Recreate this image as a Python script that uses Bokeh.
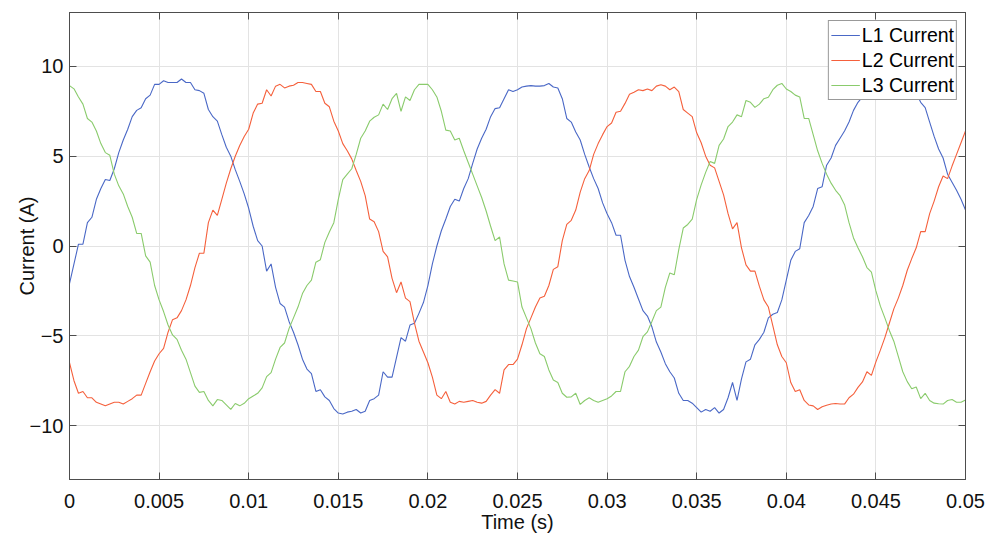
import numpy as np
from bokeh.plotting import figure
from bokeh.models import (Range1d, FixedTicker, LinearAxis, CustomJSTickFormatter)
from bokeh.embed import file_html
from bokeh.resources import INLINE

# ---- data ----
# samples every 0.25 ms: values at whole 0.5 ms steps and at the half steps in between
time_s = np.round(np.arange(201) * 0.00025, 5)

l1_at_steps = [-2.1, 0.1, 1.3, 2.6, 3.7, 4.3, 5.9, 7.2, 7.7, 8.4, 9.0, 9.1, 9.1, 9.1, 8.7, 8.5, 7.2,
               6.2, 5.0, 3.6, 2.1, 0.3, -1.4, -2.3, -3.4, -4.8, -6.3, -7.1, -8.0, -8.6, -9.3, -9.25, -9.1,
               -9.2, -8.5, -7.0, -7.3, -5.1, -4.4, -3.75, -2.2, 0.0, 1.5, 2.6, 3.2, 4.6, 6.0, 7.2, 7.7, 8.7,
               8.7, 8.9, 8.9, 8.93, 8.85, 8.2, 6.9, 5.9, 4.4, 3.2, 1.8, 0.6, -0.8, -2.3, -3.6, -4.5,
               -5.9, -7.0, -8.2, -8.6, -9.0, -9.1, -9.0, -9.1, -7.6, -7.4, -6.3, -5.2, -4.0, -3.7, -1.9, -0.3, 1.3,
               2.2, 3.3, 4.9, 6.0, 6.9, 8.0, 8.6, 8.9, 9.1, 9.1, 9.0, 8.8, 8.0, 6.9, 5.4, 4.0, 3.1, 2.0]
l1_between = [-1.0, 0.1, 1.6, 3.2, 3.65, 5.2, 6.5, 7.55, 8.2, 9.0, 9.2, 9.1, 9.3, 9.1, 8.65, 7.6,
              6.95, 5.5, 4.25, 2.9, 1.1, 0.0, -1.0, -3.2, -4.2, -5.5, -6.85, -8.1, -8.4, -9.05, -9.35, -9.2,
              -9.3, -8.6, -8.3, -7.3, -6.2, -5.3, -4.3, -3.15, -1.0, 0.85, 2.2, 2.5, 3.75, 5.4, 6.5, 7.65, 8.2,
              8.6, 8.85, 8.93, 8.9, 9.05, 8.8, 7.1, 6.35, 5.1, 3.75, 2.4, 1.3, 0.6, -1.7, -2.95, -3.9,
              -5.35, -6.55, -7.35, -8.6, -8.75, -9.25, -9.2, -9.3, -8.45, -8.6, -6.45, -5.5, -4.8, -3.8, -3.0, -0.8, -0.15,
              1.7, 3.2, 4.5, 5.6, 6.4, 7.55, 8.3, 8.8, 9.0, 9.1, 9.05, 8.9, 8.5, 7.7, 6.1, 4.9, 3.55, 2.6]

l2_at_steps = [-6.5, -8.2, -8.45, -8.7, -8.9, -8.7, -8.8, -8.5, -8.3, -7.0, -6.0, -4.8, -4.0, -3.0, -1.2, -0.4, 2.0,
               2.6, 4.3, 5.6, 6.5, 7.9, 8.7, 8.9, 8.8, 8.95, 9.1, 9.0, 8.6, 7.75, 6.4, 5.3, 4.2,
               2.8, 1.35, -0.3, -1.8, -2.0, -3.1, -5.3, -6.5, -8.3, -8.1, -8.8, -8.7, -8.6, -8.75, -8.3, -8.2, -6.6,
               -6.3, -4.6, -3.4, -2.8, -1.3, 0.3, 1.43, 3.0, 4.2, 5.7, 6.65, 7.45, 7.94, 8.56, 8.65, 8.65,
               8.98, 8.7, 8.6, 7.4, 6.3, 5.0, 4.35, 2.85, 0.95, -0.1, -1.4, -2.25, -3.4, -5.5, -6.5, -8.1, -8.6,
               -8.9, -8.95, -8.8, -8.8, -8.45, -7.87, -7.0, -6.45, -5.1, -3.5, -2.2, -0.7, 0.8, 1.8, 3.3, 3.75, 5.1, 6.4]
l2_between = [-7.5, -8.1, -8.45, -8.8, -8.8, -8.7, -8.65, -8.3, -7.65, -6.4, -5.7, -4.1, -3.6, -2.2, -0.4, 1.3,
              1.7, 3.5, 5.0, 6.1, 7.4, 7.95, 8.35, 9.0, 8.9, 9.1, 9.05, 8.6, 7.95, 6.95, 5.7, 4.85,
              3.6, 1.5, 0.8, -0.6, -2.6, -2.9, -4.3, -5.9, -7.3, -8.5, -8.7, -8.65, -8.65, -8.7, -8.65, -8.0, -6.9,
              -6.6, -5.5, -4.0, -2.9, -2.2, -1.15, 1.2, 2.0, 3.75, 5.1, 6.2, 6.85, 7.5, 8.45, 8.7, 8.74,
              8.9, 8.9, 8.85, 7.6, 7.2, 5.75, 4.5, 3.6, 1.8, 1.3, -1.05, -1.4, -3.0, -4.45, -6.15, -7.6, -8.0,
              -8.85, -9.1, -8.87, -8.77, -8.8, -8.25, -7.57, -7.2, -5.8, -4.3, -2.9, -1.35, -0.1, 0.8, 2.5, 3.9, 4.45, 5.75]

l3_at_steps = [8.93, 8.3, 7.1, 6.4, 5.2, 4.0, 2.9, 1.6, 0.7, -0.9, -3.0, -4.4, -5.2, -6.3, -7.8, -8.1, -8.9,
               -8.6, -9.1, -8.9, -8.5, -8.2, -7.27, -6.3, -5.4, -4.0, -2.65, -1.9, -0.76, 0.78, 2.6, 4.0, 5.1,
               6.4, 7.17, 7.9, 8.2, 7.5, 8.1, 9.0, 9.0, 8.3, 6.45, 5.9, 5.3, 4.0, 2.7, 1.1, 0.5, -1.9,
               -2.0, -4.0, -5.4, -6.15, -7.46, -8.2, -8.4, -8.82, -8.45, -8.7, -8.5, -8.1, -7.0, -6.15, -5.05, -4.2,
               -3.4, -1.5, -0.2, 1.2, 2.6, 4.1, 4.6, 5.96, 6.9, 7.2, 8.0, 7.9, 8.28, 8.95, 8.74, 8.4, 7.1,
               6.2, 4.6, 3.5, 2.8, 1.3, -0.1, -1.2, -2.5, -4.0, -5.3, -7.0, -7.95, -8.5, -8.6, -8.78, -8.6, -8.7, -8.57]
l3_between = [8.75, 7.9, 6.9, 5.7, 5.05, 3.35, 2.2, 0.7, -0.55, -2.2, -3.65, -4.95, -5.8, -7.05, -8.15, -8.6,
              -8.55, -8.85, -8.77, -8.76, -8.35, -7.9, -7.05, -5.65, -4.6, -3.4, -2.2, -0.9, 0.2, 1.3, 3.7, 4.3,
              6.0, 6.95, 7.3, 7.6, 8.5, 8.3, 8.7, 9.0, 8.7, 7.5, 6.4, 6.0, 4.65, 3.35, 1.95, 0.3, -1.0,
              -1.95, -3.4, -4.6, -6.0, -6.9, -7.6, -8.42, -8.2, -8.6, -8.6, -8.6, -8.35, -8.1, -6.7, -5.8, -4.78,
              -3.6, -2.3, -1.6, 1.0, 1.5, 3.4, 4.7, 5.6, 6.65, 7.3, 8.1, 7.72, 8.2, 8.7, 9.05, 8.6, 8.3,
              7.1, 5.3, 4.0, 3.1, 2.3, 0.45, -0.6, -1.45, -3.35, -4.7, -6.15, -7.55, -7.85, -8.2, -8.75, -8.8, -8.55, -8.7]


def interleave(at_steps, between):
    out = []
    for a, b in zip(at_steps, between):
        out.extend([a, b])
    out.append(at_steps[-1])
    return out


l1_current = interleave(l1_at_steps, l1_between)
l2_current = interleave(l2_at_steps, l2_between)
l3_current = interleave(l3_at_steps, l3_between)

series_names = ["L1 Current", "L2 Current", "L3 Current"]
series_colors = ["#4a68c6", "#f5603c", "#8acb6c"]

x_ticks = [0, 0.005, 0.01, 0.015, 0.02, 0.025, 0.03, 0.035, 0.04, 0.045, 0.05]
x_tick_labels = ["0", "0.005", "0.01", "0.015", "0.02", "0.025", "0.03", "0.035", "0.04", "0.045", "0.05"]
y_ticks = [-10, -5, 0, 5, 10]
y_tick_labels = ["\u221210", "\u22125", "0", "5", "10"]

FONT = "Liberation Sans"
AXIS_COLOR = "#4d4d4d"
GRID_COLOR = "#e3e3e3"
TEXT_COLOR = "#111111"

p = figure(frame_width=896, frame_height=467,
           min_border_left=69, min_border_top=12, min_border_right=20, min_border_bottom=40,
           x_range=Range1d(0, 0.05), y_range=Range1d(-13, 13),
           output_backend="svg", toolbar_location=None,
           background_fill_color="white", border_fill_color="white")

p.outline_line_color = AXIS_COLOR
p.outline_line_width = 1

code = """
let best = 0; let bd = 1e9;
for (let i = 0; i < tk.length; i++) { const d = Math.abs(tk[i] - tick); if (d < bd) { bd = d; best = i; } }
return lb[best];
"""
xfmt = CustomJSTickFormatter(args=dict(tk=x_ticks, lb=x_tick_labels), code=code)
yfmt = CustomJSTickFormatter(args=dict(tk=y_ticks, lb=y_tick_labels), code=code)
blankfmt = CustomJSTickFormatter(code="return '';")

for ax in p.xaxis:
    ax.ticker = FixedTicker(ticks=x_ticks)
    ax.formatter = xfmt
for ax in p.yaxis:
    ax.ticker = FixedTicker(ticks=y_ticks)
    ax.formatter = yfmt

def style_axis(ax, show_labels=True):
    ax.axis_line_color = AXIS_COLOR
    ax.major_tick_line_color = AXIS_COLOR
    ax.major_tick_in = 7
    ax.major_tick_out = 0
    ax.minor_tick_line_color = None
    ax.major_label_text_font = FONT
    ax.major_label_text_color = TEXT_COLOR
    ax.axis_label_text_font = FONT
    ax.axis_label_text_font_style = "normal"
    ax.axis_label_text_color = TEXT_COLOR
    if show_labels:
        ax.major_label_text_font_size = "20px"
        ax.axis_label_text_font_size = "20px"
    else:
        ax.formatter = blankfmt
        ax.major_label_text_font_size = "1px"
        ax.major_label_standoff = 0

style_axis(p.xaxis[0])
style_axis(p.yaxis[0])
p.xaxis[0].axis_label = "Time (s)"
p.yaxis[0].axis_label = "Current (A)"
p.xaxis[0].major_label_standoff = 14
p.xaxis[0].axis_label_standoff = 0
p.yaxis[0].major_label_standoff = 6
p.yaxis[0].axis_label_standoff = -11

top_ax = LinearAxis(ticker=FixedTicker(ticks=x_ticks))
style_axis(top_ax, show_labels=False)
p.add_layout(top_ax, "above")
right_ax = LinearAxis(ticker=FixedTicker(ticks=y_ticks))
style_axis(right_ax, show_labels=False)
p.add_layout(right_ax, "right")

p.xgrid.ticker = FixedTicker(ticks=x_ticks)
p.ygrid.ticker = FixedTicker(ticks=y_ticks)
p.xgrid.grid_line_color = GRID_COLOR
p.ygrid.grid_line_color = GRID_COLOR

for vals, name, col in zip([l1_current, l2_current, l3_current], series_names, series_colors):
    p.line(time_s, vals, line_color=col, line_width=1.1, legend_label=name)

lg = p.legend[0]
lg.location = "top_right"
lg.margin = 8
lg.padding = 2
lg.spacing = 1
lg.glyph_width = 29
lg.glyph_height = 24
lg.label_height = 24
lg.label_standoff = 2
lg.label_text_font = FONT
lg.label_text_font_size = "19.5px"
lg.label_text_color = "#000000"
lg.border_line_color = "#333333"
lg.border_line_width = 1
lg.background_fill_color = "white"
lg.background_fill_alpha = 1.0

open("out.html", "w").write(file_html(p, INLINE))
